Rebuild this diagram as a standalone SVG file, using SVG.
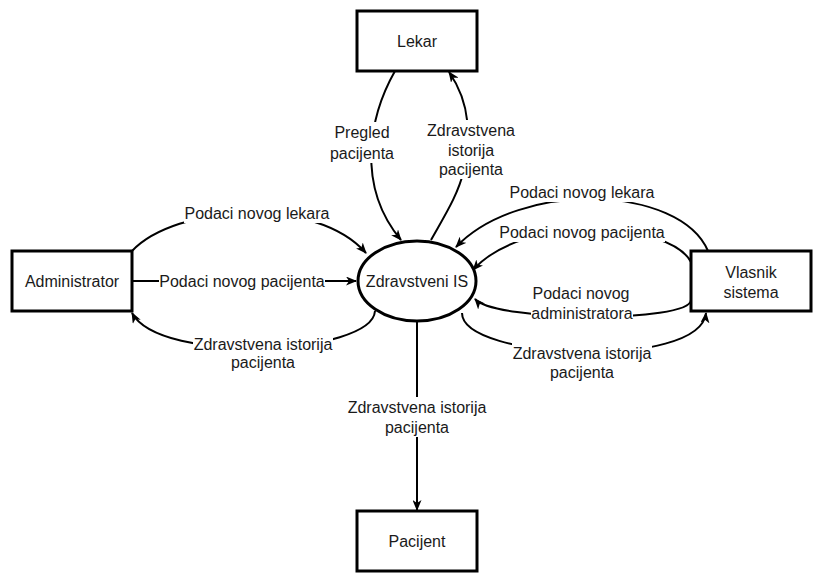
<svg xmlns="http://www.w3.org/2000/svg" width="823" height="583" viewBox="0 0 823 583">
  <style>
    text { font-family: "Liberation Sans", Arial, Helvetica, sans-serif; font-size: 16px; fill: #1a1a1a; text-anchor: middle; }
    .box { fill: #ffffff; stroke: #000000; stroke-width: 3; }
    .edge { fill: none; stroke: #000000; stroke-width: 2; marker-end: url(#arr); }
    .lblbg { fill: #ffffff; stroke: none; }
  </style>
  <defs>
    <marker id="arr" viewBox="0 0 11 9" refX="10" refY="4.5" markerWidth="11" markerHeight="9" markerUnits="userSpaceOnUse" orient="auto">
      <path d="M0,0 L11,4.5 L0,9 L3,4.5 Z" fill="#000000"/>
    </marker>
  </defs>
  <rect width="823" height="583" fill="#ffffff"/>

  <g id="connectors">
    <path class="edge" d="M 395 71 C 370 115, 355 185, 401 240"/>
    <path class="edge" d="M 431 240 C 445 215, 458 195, 464 170 C 470 140, 472 105, 449 72"/>
    <path class="edge" d="M 132 251 C 175 205, 315 195, 366 253"/>
    <path class="edge" d="M 132 281 L 356 281"/>
    <path class="edge" d="M 375 311 C 372 355, 160 365, 132 313"/>
    <path class="edge" d="M 708 251 C 680 185, 520 180, 456 247"/>
    <path class="edge" d="M 691 262 C 670 222, 525 212, 473 270"/>
    <path class="edge" d="M 691 300 C 690 323, 495 322, 475 299"/>
    <path class="edge" d="M 462 313 C 462 360, 700 370, 706 313"/>
    <path class="edge" d="M 417 322 L 417 510"/>

    <g id="edge-labels">
      <rect class="lblbg" x="330" y="122" width="64" height="41"/>
      <text x="362" y="138">Pregled</text>
      <text x="362" y="159">pacijenta</text>

      <rect class="lblbg" x="427" y="120" width="88" height="59"/>
      <text x="471" y="136">Zdravstvena</text>
      <text x="471" y="156">istorija</text>
      <text x="471" y="175">pacijenta</text>

      <rect class="lblbg" x="184" y="203" width="146" height="20"/>
      <text x="257" y="219">Podaci novog lekara</text>

      <rect class="lblbg" x="159" y="272" width="166" height="19"/>
      <text x="242" y="287">Podaci novog pacijenta</text>

      <rect class="lblbg" x="193" y="334" width="140" height="38"/>
      <text x="263" y="350">Zdravstvena istorija</text>
      <text x="263" y="368">pacijenta</text>

      <rect class="lblbg" x="509" y="182" width="146" height="20"/>
      <text x="582" y="198">Podaci novog lekara</text>

      <rect class="lblbg" x="499" y="222" width="166" height="20"/>
      <text x="582" y="238">Podaci novog pacijenta</text>

      <rect class="lblbg" x="531" y="283" width="102" height="38"/>
      <text x="581" y="299">Podaci novog</text>
      <text x="582" y="319">administratora</text>

      <rect class="lblbg" x="512" y="343" width="140" height="38"/>
      <text x="582" y="359">Zdravstvena istorija</text>
      <text x="582" y="378">pacijenta</text>

      <rect class="lblbg" x="347" y="397" width="140" height="40"/>
      <text x="417" y="413">Zdravstvena istorija</text>
      <text x="417" y="433">pacijenta</text>
    </g>
  </g>

  <g id="lekar">
    <rect class="box" x="357" y="11" width="120" height="60"/>
    <text x="417" y="47">Lekar</text>
  </g>
  <g id="administrator">
    <rect class="box" x="12" y="251" width="120" height="60"/>
    <text x="72" y="287">Administrator</text>
  </g>
  <g id="vlasnik-sistema">
    <rect class="box" x="691" y="251" width="120" height="60"/>
    <text x="751" y="278">Vlasnik</text>
    <text x="751" y="298">sistema</text>
  </g>
  <g id="pacijent">
    <rect class="box" x="357" y="511" width="120" height="60"/>
    <text x="417" y="547">Pacijent</text>
  </g>
  <g id="zdravstveni-is">
    <ellipse class="box" cx="417" cy="281" rx="59" ry="40"/>
    <text x="417" y="287">Zdravstveni IS</text>
  </g>
</svg>
